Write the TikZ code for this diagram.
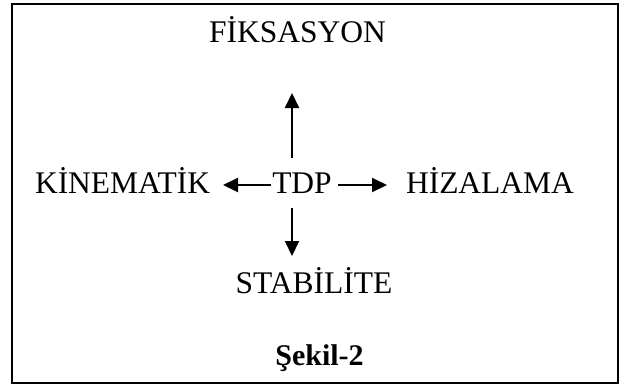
\documentclass[tikz,border=0pt]{standalone}
\usepackage{fontspec}
\setmainfont{Liberation Serif}
\usetikzlibrary{arrows.meta}
\begin{document}
\begin{tikzpicture}[x=1pt,y=-1pt,
  lbl/.style={inner sep=0pt,anchor=base,font=\fontsize{31.5}{38}\selectfont},
  arr/.style={line width=2pt,-{Triangle[length=15pt,width=14pt]}}]
\useasboundingbox (0,0) rectangle (620,385);
\draw[line width=2pt] (12,4) rectangle (618,383);
\node[lbl] (fix) at (297.5,43) {FİKSASYON};
\node[lbl] (kin) at (122.5,193) {KİNEMATİK};
\node[lbl] (tdp) at (302,193) {TDP};
\node[lbl] (hiz) at (490,193) {HİZALAMA};
\node[lbl] (sta) at (314,293) {STABİLİTE};
\node[lbl,font=\fontsize{30}{36}\selectfont\bfseries] (sek) at (319.5,365) {Şekil-2};
\coordinate (upS) at (292,158);
\coordinate (upE) at (292,93);
\coordinate (dnS) at (292,208);
\coordinate (dnE) at (292,256);
\coordinate (lfS) at (271,185);
\coordinate (lfE) at (223,185);
\coordinate (rtS) at (338,185);
\coordinate (rtE) at (387,185);
\draw[arr] (upS) -- (upE);
\draw[arr] (dnS) -- (dnE);
\draw[arr] (lfS) -- (lfE);
\draw[arr] (rtS) -- (rtE);
\end{tikzpicture}
\end{document}
